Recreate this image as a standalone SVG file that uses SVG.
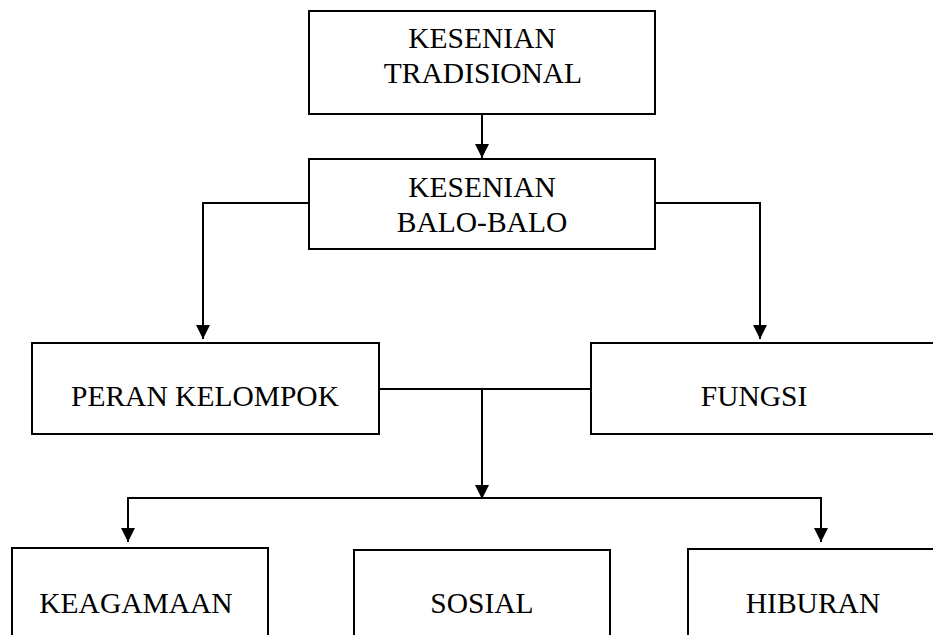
<svg xmlns="http://www.w3.org/2000/svg" width="933" height="635" viewBox="0 0 933 635">
<style>
.box{fill:#fff;stroke:#000;stroke-width:2}
.t{font-family:"Liberation Serif","Times New Roman",serif;font-size:29.5px;fill:#000;text-anchor:middle}
.c{fill:none;stroke:#000;stroke-width:2}
</style>
<defs>
<marker id="ah" markerUnits="userSpaceOnUse" markerWidth="14" markerHeight="14" viewBox="0 0 14 14" refX="14" refY="7" orient="auto">
<path d="M0,0 L14,7 L0,14 Z" fill="#000"/>
</marker>
</defs>
<rect width="933" height="635" fill="#fff"/>
<g id="connectors">
<line class="c" x1="482" y1="114" x2="482" y2="158" marker-end="url(#ah)"/>
<polyline class="c" points="309,203 203,203 203,339" marker-end="url(#ah)"/>
<polyline class="c" points="655,203 760,203 760,339" marker-end="url(#ah)"/>
<line class="c" x1="379" y1="389" x2="591" y2="389"/>
<line class="c" x1="482" y1="389" x2="482" y2="499" marker-end="url(#ah)"/>
<polyline class="c" points="128,542 128,498 821,498 821,542"/>
<line class="c" x1="128" y1="498" x2="128" y2="542" marker-end="url(#ah)"/>
<line class="c" x1="821" y1="498" x2="821" y2="542" marker-end="url(#ah)"/>
</g>
<g id="kesenian-tradisional">
<rect class="box" x="309" y="11" width="346" height="103"/>
<text class="t" x="482" y="48">KESENIAN</text>
<text class="t" x="483" y="83">TRADISIONAL</text>
</g>
<g id="kesenian-balo-balo">
<rect class="box" x="309" y="159" width="346" height="90"/>
<text class="t" x="482" y="197">KESENIAN</text>
<text class="t" x="482" y="232">BALO-BALO</text>
</g>
<g id="peran-kelompok">
<rect class="box" x="32" y="343" width="347" height="91"/>
<text class="t" x="205" y="406">PERAN KELOMPOK</text>
</g>
<g id="fungsi">
<rect class="box" x="591" y="343" width="360" height="91"/>
<text class="t" x="754" y="406">FUNGSI</text>
</g>
<g id="keagamaan">
<rect class="box" x="12" y="548" width="256" height="110"/>
<text class="t" x="136" y="613">KEAGAMAAN</text>
</g>
<g id="sosial">
<rect class="box" x="354" y="550" width="256" height="110"/>
<text class="t" x="482" y="613">SOSIAL</text>
</g>
<g id="hiburan">
<rect class="box" x="688" y="549" width="260" height="110"/>
<text class="t" x="813" y="613">HIBURAN</text>
</g>
</svg>
